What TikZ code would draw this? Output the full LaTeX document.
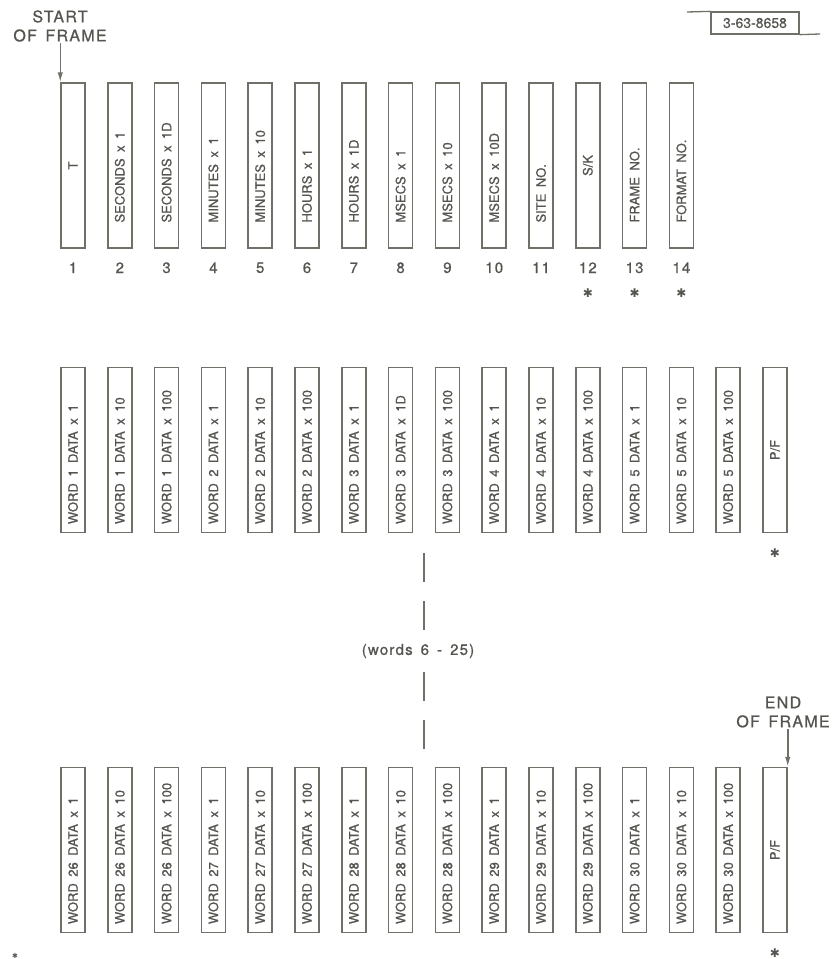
\documentclass[tikz,border=0pt]{standalone}
\usepackage{fontspec}
\setmainfont{TeX Gyre Heros}[WordSpace=1.8,FakeBold=0.8]
\newfontfamily\hdrfont{TeX Gyre Heros}[LetterSpace=8,WordSpace=1.5,FakeBold=0.8]
\newfontfamily\symfont{DejaVu Sans}
\usetikzlibrary{arrows.meta,positioning,calc}
\definecolor{ink}{RGB}{85,85,80}
\definecolor{rule}{RGB}{112,112,104}
\tikzset{
  fld/.style={draw=rule,line width=1.5pt,minimum width=24pt,minimum height=165pt,inner sep=0pt},
  fldtxt/.style={rotate=90,anchor=west,inner sep=0pt,text=ink,font=\fontsize{13}{13}\selectfont},
  num/.style={text=ink,inner sep=0pt,font=\hdrfont\fontsize{15}{15}\selectfont},
  hdr/.style={text=ink,align=center,inner sep=1pt,font=\hdrfont\fontsize{16}{19}\selectfont},
  ast/.style={text=ink,inner sep=0pt,font=\symfont\fontsize{12}{12}\selectfont},
  tagbox/.style={draw=rule,line width=1.3pt,minimum width=88pt,minimum height=22pt,inner sep=1pt,text=ink,font=\fontsize{14}{14}\selectfont},
  ln/.style={draw=rule,line width=1.3pt},
  ptr/.style={draw=rule,line width=1.5pt,-{Latex[length=10pt,width=5.5pt]}},
  gapline/.style={draw=rule,line width=1.5pt,dash pattern=on 29pt off 19pt}
}
\begin{document}
\begin{tikzpicture}[x=1pt,y=-1pt]
  \useasboundingbox (0,0) rectangle (831,959);

  % drawing number
  \node[tagbox] (tag) at (755,23) {3-63-8658};
  \coordinate (tagl) at (687,12);
  \coordinate (tagr) at (820,34);
  \draw[ln] (tagl) -- (tag.north west);
  \draw[ln] (tag.south east) -- (tagr);

  % first line: time and header fields
  \foreach \i in {1,...,14}
    \node[fld] (t\i) at ({73+(\i-1)*46.8},165.5) {};
  \node[fldtxt,anchor=center] (lt1) at (t1) {T};
  \node[fldtxt,anchor=center] (lt12) at (t12) {S/K};
  \foreach \i/\lbl in {2/SECONDS x 1,3/SECONDS x 1D,4/MINUTES x 1,5/MINUTES x 10,
      6/HOURS x 1,7/HOURS x 1D,8/MSECS x 1,9/MSECS x 10,10/MSECS x 10D,
      11/SITE NO.,13/FRAME NO.,14/FORMAT NO.}
    \node[fldtxt] (lt\i) at ($(t\i.south)+(0,-26)$) {\lbl};
  \foreach \i in {1,...,14}
    \node[num] (n\i) at ($(t\i.south)+(0,19)$) {\i};
  \foreach \i in {12,13,14}
    \node[ast] (s\i) at ($(n\i)+(0,25)$) {✱};

  \node[hdr] (sof) at (60,26) {START\\OF FRAME};
  \draw[ptr] (sof.south -| t1.north west) -- (t1.north west);

  % second line: words 1 to 5
  \foreach \i in {1,...,16}
    \node[fld] (w\i) at ({73+(\i-1)*46.8},450) {};
  \foreach \i/\lbl in {1/WORD 1 DATA x 1,2/WORD 1 DATA x 10,3/WORD 1 DATA x 100,
      4/WORD 2 DATA x 1,5/WORD 2 DATA x 10,6/WORD 2 DATA x 100,
      7/WORD 3 DATA x 1,8/WORD 3 DATA x 1D,9/WORD 3 DATA x 100,
      10/WORD 4 DATA x 1,11/WORD 4 DATA x 10,12/WORD 4 DATA x 100,
      13/WORD 5 DATA x 1,14/WORD 5 DATA x 10,15/WORD 5 DATA x 100}
    \node[fldtxt] (lw\i) at ($(w\i.south)+(0,-9)$) {\lbl};
  \node[fldtxt,anchor=center] (lw16) at (w16) {P/F};
  \node[ast] (sw) at ($(w16.south)+(0,20)$) {✱};

  % omitted words
  \node[num,minimum height=42pt] (gap) at (418,651) {(words 6 - 25)};
  \coordinate (gtop) at (424,553);
  \coordinate (gbot) at (424,750);
  \draw[gapline] (gtop) -- (gtop |- gap.north);
  \draw[gapline] (gtop |- gap.south) -- (gbot);

  % last line: words 26 to 30
  \foreach \i in {1,...,16}
    \node[fld] (b\i) at ({73+(\i-1)*46.8},850) {};
  \foreach \i/\lbl in {1/WORD 26 DATA x 1,2/WORD 26 DATA x 10,3/WORD 26 DATA x 100,
      4/WORD 27 DATA x 1,5/WORD 27 DATA x 10,6/WORD 27 DATA x 100,
      7/WORD 28 DATA x 1,8/WORD 28 DATA x 10,9/WORD 28 DATA x 100,
      10/WORD 29 DATA x 1,11/WORD 29 DATA x 10,12/WORD 29 DATA x 100,
      13/WORD 30 DATA x 1,14/WORD 30 DATA x 10,15/WORD 30 DATA x 100}
    \node[fldtxt] (lb\i) at ($(b\i.south)+(0,-9)$) {\lbl};
  \node[fldtxt,anchor=center] (lb16) at (b16) {P/F};
  \node[ast] (sb) at ($(b16.south)+(0,20)$) {✱};
  \node[ast,font=\symfont\fontsize{7}{7}\selectfont] (sl) at (15,956) {✱};

  \node[hdr] (eof) at (783,712) {END\\OF FRAME};
  \draw[ptr] (eof.south -| b16.north east) -- (b16.north east);
\end{tikzpicture}
\end{document}
